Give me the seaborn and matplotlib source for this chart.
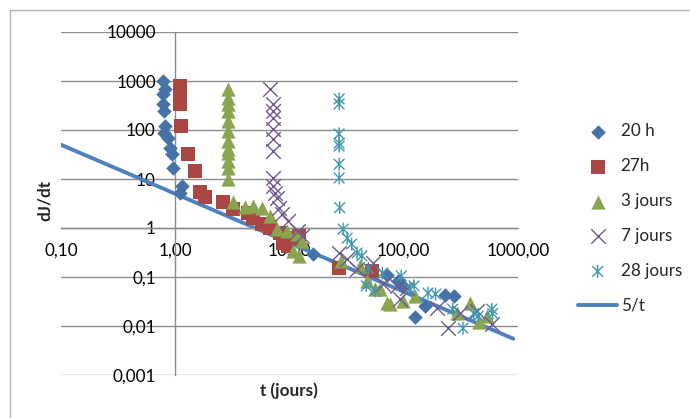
import matplotlib
matplotlib.use('Agg')
import matplotlib.pyplot as plt
import seaborn as sns
from matplotlib.path import Path
from matplotlib.patches import Rectangle

# values
t_20h = [0.78, 0.82, 0.78, 0.78, 0.8, 0.82, 0.8, 0.87, 0.9, 0.94, 0.96, 1.15, 1.1,
         16, 72, 89, 98, 126, 154, 230, 275]
y_20h = [1000, 690, 540, 340, 245, 120, 87, 69, 43, 32, 17, 7.2, 5.2,
         0.3, 0.11, 0.083, 0.066, 0.015, 0.026, 0.043, 0.04]

t_27h = [1.1, 1.1, 1.1, 1.12, 1.3, 1.5, 1.65, 1.83, 2.6, 3.2, 4.3, 4.8, 5.8, 6.8,
         8.3, 8.8, 9.7, 10.1, 12, 27, 53]
y_27h = [800, 500, 340, 120, 32, 14.6, 5.5, 4.3, 3.4, 2.4, 2.0, 1.6, 1.2, 1.0,
         0.79, 0.5, 0.43, 0.62, 0.69, 0.15, 0.13]

t_3j = [2.9, 2.9, 2.9, 2.9, 2.9, 2.9, 2.9, 2.9, 2.9, 2.9, 2.9, 2.9,
        3.2, 4.1, 4.8, 5.8, 6.8, 7.8, 9.5, 11.7, 12.9, 10.8, 12,
        28, 41, 48, 56, 62, 72, 76, 98, 126, 290, 380, 460, 540]
y_3j = [690, 450, 340, 245, 150, 95, 60, 41, 34, 23, 17, 10,
        3.4, 2.7, 2.8, 2.6, 1.76, 0.95, 0.87, 0.75, 0.54, 0.34, 0.27,
        0.21, 0.17, 0.083, 0.057, 0.057, 0.03, 0.028, 0.032, 0.041, 0.018, 0.029, 0.012, 0.016]

t_7j = [6.8, 7.1, 7.1, 7.1, 7.1, 7.1, 7.1, 7.1, 7.2, 7.4, 7.8, 8.1, 8.6, 9.8, 11.9, 12.9,
        27, 32, 39, 54, 66, 87, 93, 107, 196, 245, 310, 440, 590]
y_7j = [686, 340, 245, 175, 105, 65, 37, 10.5, 7.2, 5.2, 4.1, 2.6, 1.93, 1.39, 0.87, 0.69,
        0.31, 0.23, 0.145, 0.19, 0.072, 0.066, 0.036, 0.06, 0.023, 0.0091, 0.018, 0.02, 0.011]

t_28j = [27.2, 27.2, 27.2, 27.2, 27.2, 27.2, 27.2, 27.5, 29.5, 32, 35, 39, 43, 49,
         47, 56, 65, 95, 113, 123, 163, 190, 268, 330, 410, 450, 590, 600]
y_28j = [430, 340, 83, 54, 47, 20, 10.5, 2.6, 0.95, 0.62, 0.47, 0.31, 0.27, 0.15,
         0.066, 0.052, 0.12, 0.105, 0.057, 0.066, 0.047, 0.045, 0.022, 0.009, 0.018, 0.016, 0.022, 0.018]

fit_t = [0.1, 1, 10, 100, 910]
fit_y = [50, 5, 0.5, 0.05, 0.0055]

x_ticks = [0.1, 1, 10, 100, 1000]
x_labels = ['0,10', '1,00', '10,00', '100,00', '1000,00']
y_ticks = [0.001, 0.01, 0.1, 1, 10, 100, 1000, 10000]
y_labels = ['0,001', '0,01', '0,1', '1', '10', '100', '1000', '10000']

sns.set_style('white')
plt.rcParams['font.family'] = ['Lato', 'DejaVu Sans']
FS = 12.3

# excel style asterisk: x plus a vertical bar
asterisk = Path([(-1, -1), (1, 1), (-1, 1), (1, -1), (0, -1.2), (0, 1.2)],
                [Path.MOVETO, Path.LINETO, Path.MOVETO, Path.LINETO, Path.MOVETO, Path.LINETO])

fig = plt.figure(figsize=(6.9, 4.18), dpi=100)
ax = fig.add_axes([61 / 690, 1 - 375 / 418, 457 / 690, 343 / 418])

fig.add_artist(Rectangle((10 / 690, -0.1), 1.2, 1 - 10 / 418 + 0.1, transform=fig.transFigure,
                         fill=False, edgecolor='#b3b3b3', lw=1))

ax.set_xscale('log')
ax.set_yscale('log')
ax.set_xlim(0.1, 1000)
ax.set_ylim(0.001, 10000)

for yt in y_ticks:
    ax.axhline(yt, color='#8c8c8c', lw=1, zorder=0)

sns.lineplot(x=fit_t, y=fit_y, color='#4F81BD', lw=2.8, ax=ax, label='5/t', zorder=2)

sns.scatterplot(x=t_20h, y=y_20h, marker='D', s=55, color='#4572A7', linewidth=0, ax=ax, label='20 h', zorder=3)
sns.scatterplot(x=t_27h, y=y_27h, marker='s', s=88, color='#AA4643', linewidth=0, ax=ax, label='27h', zorder=3)
sns.scatterplot(x=t_3j, y=y_3j, marker='^', s=105, color='#89A54E', linewidth=0, ax=ax, label='3 jours', zorder=3)
sns.scatterplot(x=t_7j, y=y_7j, marker='x', s=110, color='#71588F', linewidth=1, ax=ax, label='7 jours', zorder=3)
sns.scatterplot(x=t_28j, y=y_28j, marker=asterisk, s=85, color='#4198AF', facecolor='none',
                edgecolor='#4198AF', linewidth=1, ax=ax, label='28 jours', zorder=3)

# axes cross at x=1 and y=1 like the excel chart
ax.spines['top'].set_visible(False)
ax.spines['right'].set_visible(False)
ax.spines['left'].set_position(('data', 1))
ax.spines['bottom'].set_position(('data', 1))
for sp in ('left', 'bottom'):
    ax.spines[sp].set_color('#8c8c8c')
    ax.spines[sp].set_linewidth(1)

ax.set_xticks(x_ticks)
ax.set_xticklabels(x_labels)
ax.set_yticks(y_ticks)
ax.set_yticklabels(y_labels)
ax.minorticks_off()
ax.tick_params(axis='x', direction='out', length=4.3, width=1, color='#8c8c8c', pad=6,
               labelsize=FS, labelcolor='black')
ax.tick_params(axis='y', length=0, pad=14, labelsize=FS, labelcolor='black')

fig.text(45 / 690, 1 - 200 / 418, 'dJ/dt', rotation=90, ha='center', va='center',
         fontsize=FS, fontweight='bold')
fig.text(289 / 690, 1 - 391 / 418, 't (jours)', ha='center', va='center',
         fontsize=FS, fontweight='bold')

handles, labels = ax.get_legend_handles_labels()
order = [labels.index(n) for n in ['20 h', '27h', '3 jours', '7 jours', '28 jours', '5/t']]
ax.legend([handles[i] for i in order], [labels[i] for i in order],
          loc='center left', bbox_to_anchor=(578 / 690, 1 - 218.5 / 418),
          bbox_transform=fig.transFigure, frameon=False, fontsize=FS,
          handlelength=2.3, handletextpad=0.2, labelspacing=1.11,
          borderpad=0, borderaxespad=0)

fig.savefig('out.png', dpi=100)
